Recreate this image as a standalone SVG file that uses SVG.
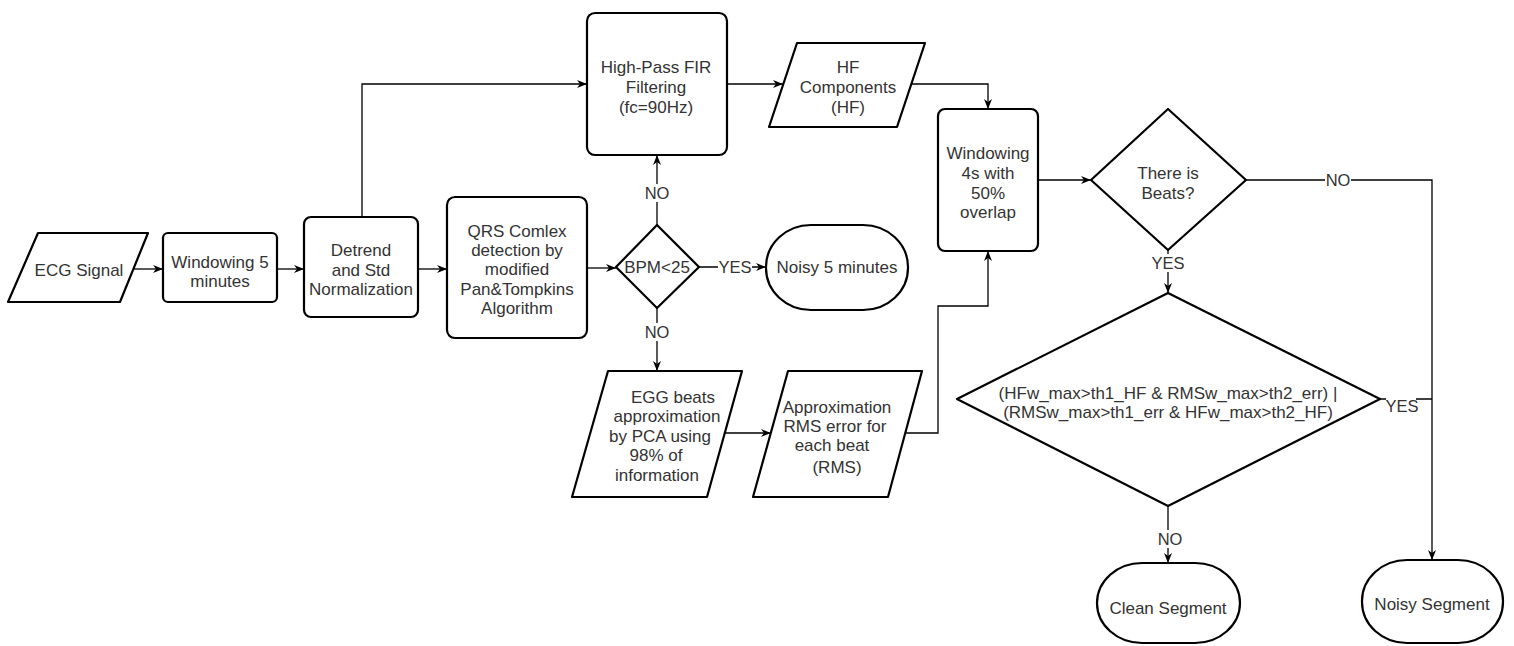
<svg xmlns="http://www.w3.org/2000/svg" width="1514" height="646" viewBox="0 0 1514 646">
<style>
.n{fill:#fff;stroke:#000;stroke-width:2.2;stroke-linejoin:round}
.t{font-family:"Liberation Sans",Arial,sans-serif;font-size:17px;fill:#333;text-anchor:middle}
.c{fill:none;stroke:#000;stroke-width:1.3}
.b{fill:#fff}
.l{font-family:"Liberation Sans",Arial,sans-serif;font-size:16.5px;fill:#333;text-anchor:middle}
</style>
<defs>
<marker id="a" viewBox="0 0 10 8" refX="10" refY="4" markerWidth="10" markerHeight="8" markerUnits="userSpaceOnUse" orient="auto">
<path d="M0,0 L10,4 L0,8 L3,4 z" fill="#000"/>
</marker>
</defs>
<rect width="1514" height="646" fill="#fff"/>
<g id="connectors">
<path class="c" d="M134,269 H163" marker-end="url(#a)"/>
<path class="c" d="M277,269 H304" marker-end="url(#a)"/>
<path class="c" d="M418,269 H447" marker-end="url(#a)"/>
<path class="c" d="M362,217 V84 H587" marker-end="url(#a)"/>
<path class="c" d="M587,268 H616" marker-end="url(#a)"/>
<path class="c" d="M699,267 H766" marker-end="url(#a)"/>
<path class="c" d="M657,225 V155" marker-end="url(#a)"/>
<path class="c" d="M657,308 V371" marker-end="url(#a)"/>
<path class="c" d="M727,84 H783" marker-end="url(#a)"/>
<path class="c" d="M911,84 H988 V109" marker-end="url(#a)"/>
<path class="c" d="M724,433 H771" marker-end="url(#a)"/>
<path class="c" d="M905,433 H938 V306 H988 V251" marker-end="url(#a)"/>
<path class="c" d="M1038,180 H1091" marker-end="url(#a)"/>
<path class="c" d="M1246,180 H1432 V560" marker-end="url(#a)"/>
<path class="c" d="M1168,250 V293" marker-end="url(#a)"/>
<path class="c" d="M1380,399 H1432"/>
<path class="c" d="M1168,506 V563" marker-end="url(#a)"/>
<rect class="b" x="644" y="184" width="26" height="18"/>
<text class="l" x="657" y="199">NO</text>
<rect class="b" x="644" y="323" width="26" height="18"/>
<text class="l" x="657" y="338">NO</text>
<rect class="b" x="718" y="258" width="34" height="18"/>
<text class="l" x="735" y="273">YES</text>
<rect class="b" x="1325" y="171" width="26" height="18"/>
<text class="l" x="1338" y="186">NO</text>
<rect class="b" x="1151" y="254" width="34" height="18"/>
<text class="l" x="1168" y="269">YES</text>
<rect class="b" x="1386" y="397" width="30" height="18"/>
<text class="l" x="1402" y="412">YES</text>
<rect class="b" x="1156" y="530" width="26" height="18"/>
<text class="l" x="1170" y="545">NO</text>
</g>
<g id="ecg">
<path class="n" d="M38,233 H148 L120,302 H8 Z"/>
<text class="t" x="79" y="276">ECG Signal</text>
</g>
<g id="win5">
<rect class="n" x="163" y="233" width="114" height="69" rx="5"/>
<text class="t" x="220" y="268">Windowing 5</text>
<text class="t" x="220" y="287">minutes</text>
</g>
<g id="detrend">
<rect class="n" x="304" y="217" width="114" height="100" rx="7"/>
<text class="t" x="361" y="256">Detrend</text>
<text class="t" x="361" y="276">and Std</text>
<text class="t" x="361" y="295">Normalization</text>
</g>
<g id="qrs">
<rect class="n" x="447" y="197" width="140" height="141" rx="8"/>
<text class="t" x="517" y="237">QRS Comlex</text>
<text class="t" x="517" y="256">detection by</text>
<text class="t" x="517" y="275">modified</text>
<text class="t" x="517" y="295">Pan&amp;Tompkins</text>
<text class="t" x="517" y="314">Algorithm</text>
</g>
<g id="bpm">
<path class="n" d="M657,225 L699,267 L657,308 L616,267 Z"/>
<text class="t" x="657" y="273">BPM&lt;25</text>
</g>
<g id="noisy5">
<rect class="n" x="766" y="225" width="142" height="85" rx="45" ry="42"/>
<text class="t" x="837" y="273">Noisy 5 minutes</text>
</g>
<g id="hpf">
<rect class="n" x="587" y="13" width="140" height="142" rx="8"/>
<text class="t" x="656" y="73">High-Pass FIR</text>
<text class="t" x="656" y="93">Filtering</text>
<text class="t" x="656" y="113">(fc=90Hz)</text>
</g>
<g id="hf">
<path class="n" d="M797,43 H925 L897,127 H769 Z"/>
<text class="t" x="848" y="73">HF</text>
<text class="t" x="848" y="93">Components</text>
<text class="t" x="848" y="113">(HF)</text>
</g>
<g id="egg">
<path class="n" d="M608,371 H742 L707,497 H572 Z"/>
<text class="t" x="673" y="403">EGG beats</text>
<text class="t" x="667" y="422">approximation</text>
<text class="t" x="660" y="442">by PCA using</text>
<text class="t" x="656" y="461">98% of</text>
<text class="t" x="657" y="481">information</text>
</g>
<g id="rms">
<path class="n" d="M788,371 H922 L888,497 H753 Z"/>
<text class="t" x="837" y="413">Approximation</text>
<text class="t" x="835" y="432">RMS error for</text>
<text class="t" x="832" y="451">each beat</text>
<text class="t" x="837" y="473">(RMS)</text>
</g>
<g id="win4">
<rect class="n" x="938" y="109" width="100" height="142" rx="7"/>
<text class="t" x="988" y="159">Windowing</text>
<text class="t" x="988" y="179">4s with</text>
<text class="t" x="988" y="199">50%</text>
<text class="t" x="988" y="218">overlap</text>
</g>
<g id="beats">
<path class="n" d="M1168,109 L1246,180 L1168,250 L1091,180 Z"/>
<text class="t" x="1168" y="179">There is</text>
<text class="t" x="1168" y="199">Beats?</text>
</g>
<g id="cond">
<path class="n" d="M1168,293 L1380,399 L1168,506 L957,399 Z"/>
<text class="t" x="1168" y="399">(HFw_max&gt;th1_HF &amp; RMSw_max&gt;th2_err) |</text>
<text class="t" x="1168" y="418">(RMSw_max&gt;th1_err &amp; HFw_max&gt;th2_HF)</text>
</g>
<g id="clean">
<rect class="n" x="1097" y="563" width="143" height="80" rx="45" ry="40"/>
<text class="t" x="1168" y="614">Clean Segment</text>
</g>
<g id="noisyseg">
<rect class="n" x="1362" y="560" width="141" height="83" rx="45" ry="41"/>
<text class="t" x="1432" y="610">Noisy Segment</text>
</g>
</svg>
